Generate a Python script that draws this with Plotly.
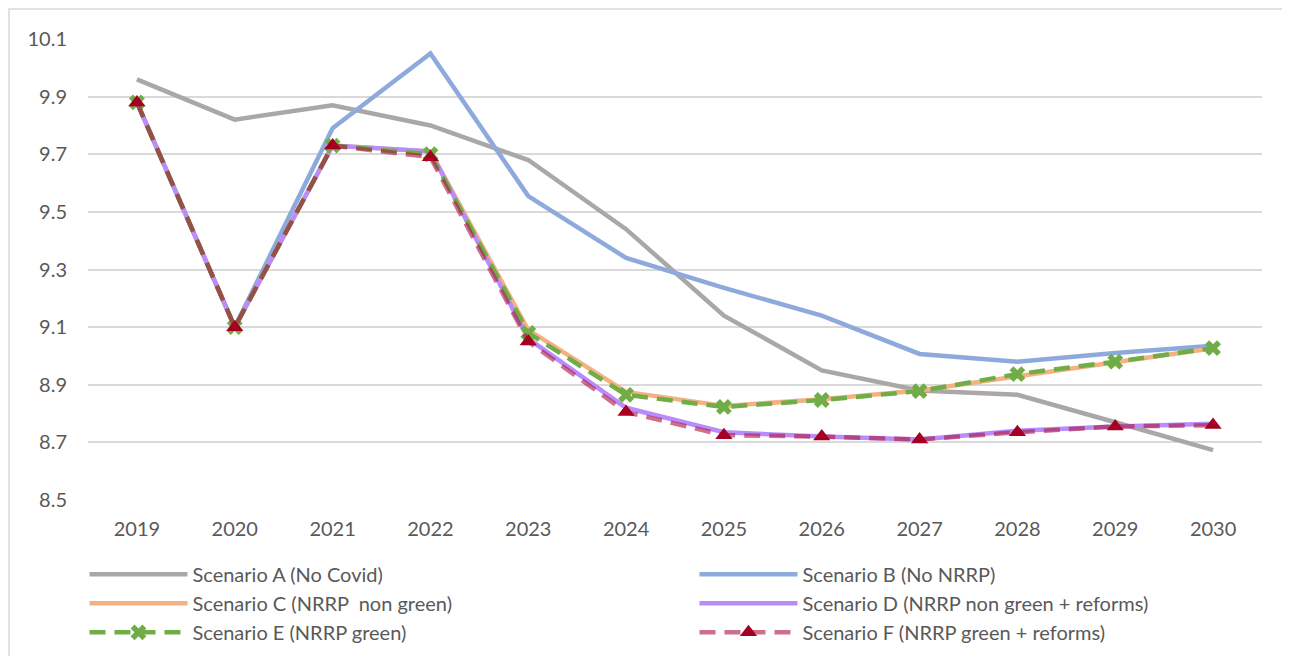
"""Scenario line chart, 2019-2030."""

import plotly.graph_objects as go

YEARS = [str(y) for y in range(2019, 2031)]

SCEN_A = [9.96, 9.82, 9.87, 9.80, 9.68, 9.44, 9.14, 8.95, 8.88, 8.865, 8.77, 8.673]
SCEN_B = [9.88, 9.10, 9.79, 10.05, 9.555, 9.34, 9.236, 9.14, 9.007, 8.98, 9.01, 9.035]
SCEN_C = [9.88, 9.10, 9.73, 9.71, 9.09, 8.875, 8.826, 8.85, 8.88, 8.93, 8.98, 9.027]
SCEN_D = [9.88, 9.10, 9.73, 9.71, 9.06, 8.82, 8.735, 8.72, 8.71, 8.74, 8.755, 8.765]
SCEN_E = [9.88, 9.10, 9.73, 9.70, 9.08, 8.865, 8.823, 8.847, 8.878, 8.937, 8.98, 9.027]
SCEN_F = [9.88, 9.10, 9.73, 9.69, 9.05, 8.805, 8.725, 8.72, 8.71, 8.735, 8.755, 8.76]

Y_TICKS = [8.5, 8.7, 8.9, 9.1, 9.3, 9.5, 9.7, 9.9, 10.1]

NAMES = [
    "Scenario A (No Covid)",
    "Scenario B (No NRRP)",
    "Scenario C (NRRP  non green)",
    "Scenario D (NRRP non green + reforms)",
    "Scenario E (NRRP green)",
    "Scenario F (NRRP green + reforms)",
]

TXT = "#595959"
FONT = "Lato, 'Open Sans', sans-serif"

fig = go.Figure()

# plain lines first
for name, vals, color in [
    (NAMES[0], SCEN_A, "#ABA7A7"),
    (NAMES[1], SCEN_B, "#8EAADC"),
    (NAMES[2], SCEN_C, "#F4B183"),
    (NAMES[3], SCEN_D, "#B88CFA"),
]:
    fig.add_trace(go.Scatter(
        x=YEARS, y=vals, name=name, mode="lines",
        line=dict(color=color, width=4.5),
    ))

fig.add_trace(go.Scatter(
    x=YEARS, y=SCEN_E, name=NAMES[4], mode="lines+markers",
    line=dict(color="#70AD47", width=4.5, dash="16px,9px"),
    marker=dict(symbol="x", size=14, color="#70AD47"),
))

fig.add_trace(go.Scatter(
    x=YEARS, y=SCEN_F, name=NAMES[5], mode="lines+markers",
    line=dict(color="rgba(175,25,70,0.62)", width=4.5, dash="16px,9px"),
    marker=dict(symbol="triangle-up", size=15, color="#A50021"),
))

# page body has an 8px margin, so the figure is 1274x648 inside 1290x664
fig.update_layout(
    width=1274,
    height=648,
    template=None,
    paper_bgcolor="white",
    plot_bgcolor="white",
    font=dict(family=FONT, color=TXT, size=20),
    margin=dict(l=80, r=20, t=31, b=156, autoexpand=False),
    xaxis=dict(
        type="category",
        range=[-0.5, 11.5],
        showgrid=False,
        showline=False,
        zeroline=False,
        ticks="",
        ticklabelstandoff=15,
        tickfont=dict(size=20, color=TXT),
    ),
    yaxis=dict(
        range=[8.5, 10.1],
        tickvals=Y_TICKS,
        ticktext=[f"{v:.1f}" for v in Y_TICKS],
        showgrid=True,
        gridcolor="#D9D9D9",
        gridwidth=1.5,
        zeroline=False,
        showline=False,
        ticks="",
        ticklabelstandoff=20,
        tickfont=dict(size=20, color=TXT),
    ),
    legend=dict(
        orientation="h",
        x=-0.003,
        xanchor="left",
        y=-0.119,
        yanchor="top",
        entrywidth=497,
        tracegroupgap=0,
        itemwidth=98,
        font=dict(size=20, color=TXT),
    ),
    shapes=[dict(
        type="rect", xref="paper", yref="paper",
        x0=-79 / 1174, x1=1.05, y0=-0.5, y1=1 + 30 / 461,
        line=dict(color="#D9D9D9", width=1.5),
        fillcolor="rgba(0,0,0,0)",
    )],
)

fig.write_html("out.html")
